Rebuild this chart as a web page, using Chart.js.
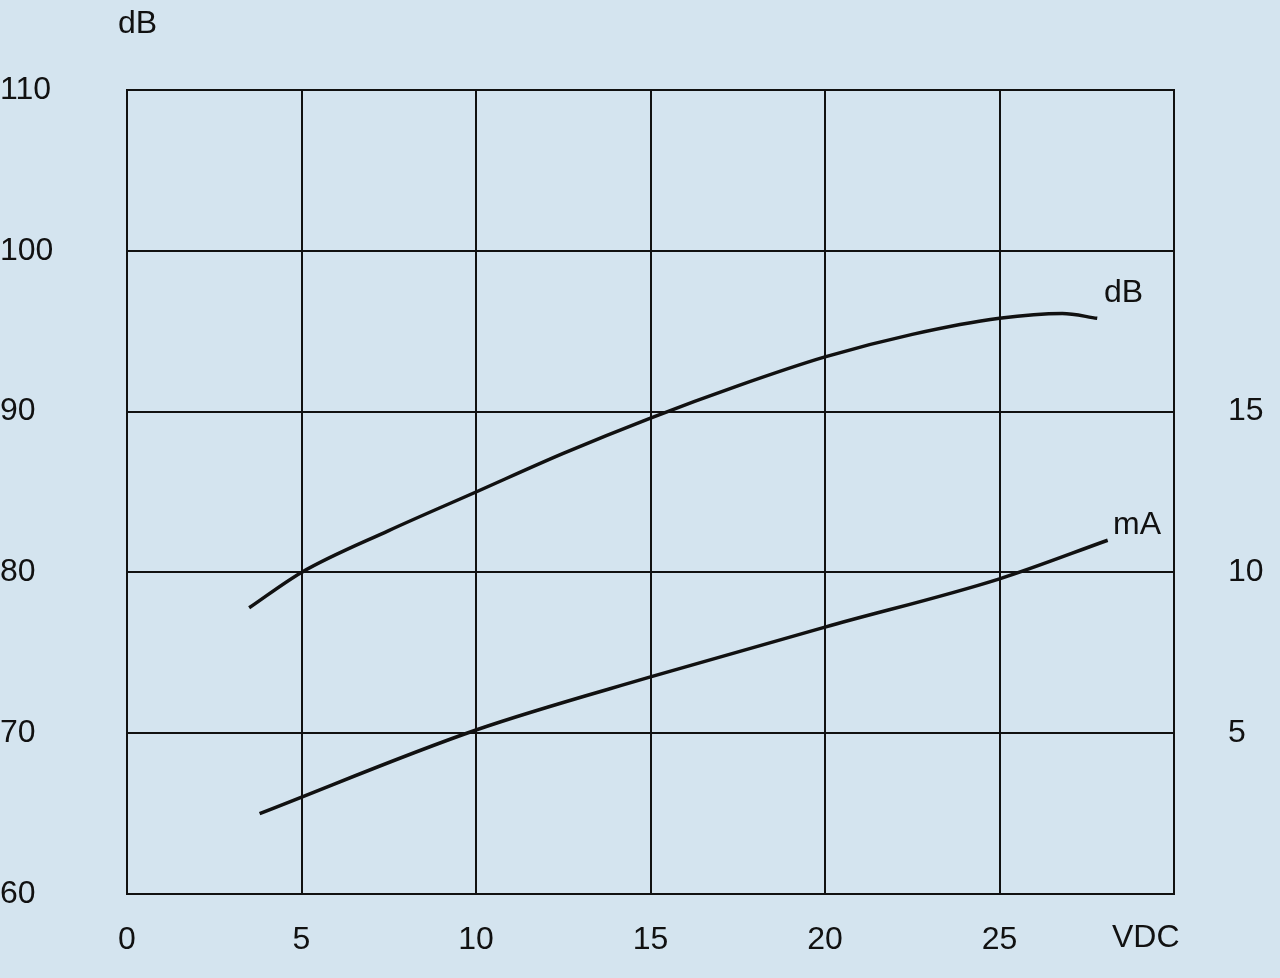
<!DOCTYPE html>
<html><head><meta charset="utf-8">
<script src="https://cdn.jsdelivr.net/npm/chart.js@4/dist/chart.umd.min.js"></script>
<style>html,body{margin:0;background:#d4e4ef;}#wrap{width:1280px;height:978px;}</style>
</head><body><div id="wrap"><canvas id="c"></canvas></div>
<script>
// voltage (VDC) vs sound level and current
const dbVolts = [3.5, 5, 7.5, 10, 12.5, 15, 17.5, 20, 22.5, 25, 26.8, 27.8];
const dbLevel = [77.8, 80, 82.6, 85, 87.4, 89.6, 91.6, 93.4, 94.8, 95.8, 96.1, 95.8];
const maVolts = [3.8, 10, 15, 20, 25, 28.1];
const maCurrent = [2.5, 5.1, 6.75, 8.3, 9.8, 11];

const font = {family: 'Liberation Sans', size: 32};

const labels = {
    id: 'labels',
    afterDraw(chart) {
        const ctx = chart.ctx;
        ctx.save();
        ctx.fillStyle = '#111';
        ctx.font = '32px "Liberation Sans"';
        ctx.textBaseline = 'middle';
        ctx.fillText('dB', 118, 24);
        ctx.fillText('dB', 1104, 293);
        ctx.fillText('mA', 1113, 525);
        ctx.fillText('VDC', 1112, 938);
        ctx.restore();
    }
};

new Chart(document.getElementById('c'), {
    type: 'line',
    data: {
        datasets: [{
            data: dbVolts.map((x, i) => ({x: x, y: dbLevel[i]})),
            yAxisID: 'y'
        }, {
            data: maVolts.map((x, i) => ({x: x, y: maCurrent[i]})),
            yAxisID: 'y2'
        }]
    },
    options: {
        responsive: true,
        maintainAspectRatio: false,
        animation: false,
        layout: {padding: {top: 90, left: 0, right: 0, bottom: 0}},
        elements: {
            line: {borderColor: '#111', borderWidth: 3.5, cubicInterpolationMode: 'monotone'},
            point: {radius: 0}
        },
        plugins: {legend: {display: false}, tooltip: {enabled: false}},
        scales: {
            x: {
                type: 'linear', min: 0, max: 30,
                ticks: {stepSize: 5, color: '#111', font: font, padding: 27,
                    callback: v => v === 30 ? '' : v},
                grid: {color: '#111', lineWidth: 2, drawTicks: false},
                border: {color: '#111', width: 2},
                afterFit: s => { s.height = 84; }
            },
            y: {
                position: 'left', min: 60, max: 110,
                ticks: {stepSize: 10, color: '#111', font: font, padding: 40, crossAlign: 'far'},
                grid: {color: '#111', lineWidth: 2, drawTicks: false},
                border: {color: '#111', width: 2},
                afterFit: s => { s.width = 127; }
            },
            y2: {
                position: 'right', min: 0, max: 25,
                ticks: {stepSize: 5, color: '#111', font: font, padding: 54, crossAlign: 'near',
                    callback: v => (v === 5 || v === 10 || v === 15) ? v : ''},
                grid: {display: false, drawTicks: false},
                border: {color: '#111', width: 2},
                afterFit: s => { s.width = 106; }
            }
        }
    },
    plugins: [labels]
});
</script></body></html>
